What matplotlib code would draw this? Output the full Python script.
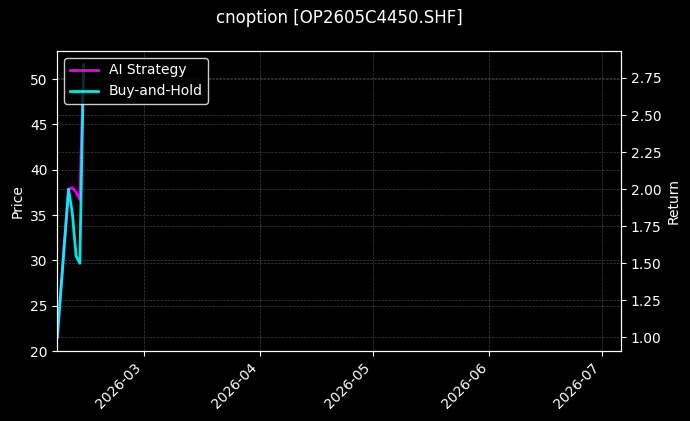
import matplotlib
matplotlib.use("Agg")
import matplotlib.pyplot as plt
import matplotlib.dates as mdates
import numpy as np
import pandas as pd

# trading days shown in the chart
dates = pd.to_datetime(["2026-02-06", "2026-02-09", "2026-02-10",
                        "2026-02-11", "2026-02-12", "2026-02-13"])
ai_strategy = [1.00, 2.00, 2.01, 1.98, 1.93, 2.84]
buy_and_hold = [1.00, 2.00, 1.84, 1.55, 1.50, 2.84]

title = "cnoption [OP2605C4450.SHF]"
x_range = pd.to_datetime(["2026-02-06", "2026-07-06"])
price_range = (20, 53.1)

plt.style.use("dark_background")
fig, ax = plt.subplots(figsize=(6.9, 4.21), dpi=100)
fig.subplots_adjust(left=0.083, right=0.9, top=0.879, bottom=0.166)

ax.set_ylim(*price_range)
ax.set_ylabel("Price")
ax.grid(True, linestyle="--", linewidth=0.5, color="gray", alpha=0.5)

ax2 = ax.twinx()
ax2.plot(dates, ai_strategy, color="#ff00ff", linewidth=2, alpha=0.9, label="AI Strategy")
ax2.plot(dates, buy_and_hold, color="#00ffff", linewidth=2, alpha=0.9, label="Buy-and-Hold")
ax2.set_ylabel("Return")
ax2.grid(True, linestyle="--", linewidth=0.5, color="gray", alpha=0.5)

ax.set_xlim(x_range[0], x_range[1])
ax.xaxis.set_major_locator(mdates.MonthLocator())
ax.xaxis.set_major_formatter(mdates.DateFormatter("%Y-%m"))
for lbl in ax.get_xticklabels():
    lbl.set_rotation(45)
    lbl.set_ha("right")

ax2.legend(loc="upper left", facecolor="black", edgecolor="white")
ax.set_title(title, fontsize=12, pad=20)

fig.savefig("out.png", dpi=100)
